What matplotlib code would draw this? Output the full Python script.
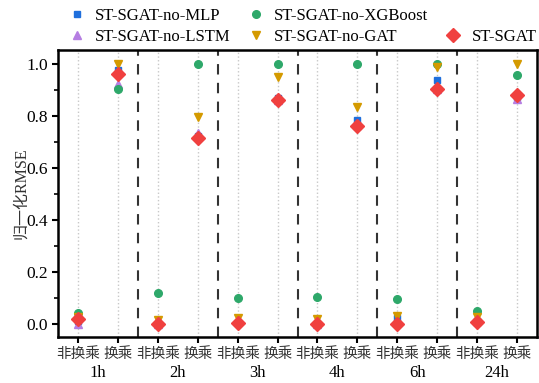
import matplotlib
matplotlib.use("Agg")
from matplotlib import pyplot as plt
from matplotlib.lines import Line2D
import numpy as np

plt.rcParams['font.family'] = ['Liberation Serif', 'Noto Sans CJK SC']

horizons = ["1h", "2h", "3h", "4h", "6h", "24h"]
sub_labels = ["非换乘", "换乘"]

# normalized RMSE, order: (1h non, 1h tr, 2h non, 2h tr, ...)
no_mlp = [0.010, 0.976, 0.0, 0.723, 0.005, 0.870, 0.0, 0.785, 0.025, 0.938, 0.010, 0.872]
no_lstm = [0.0, 0.921, 0.002, 0.732, 0.015, 0.860, 0.002, 0.765, 0.010, 0.902, 0.012, 0.866]
no_xgb = [0.041, 0.903, 0.121, 1.0, 0.101, 1.0, 0.103, 1.0, 0.096, 1.0, 0.050, 0.958]
no_gat = [0.027, 1.0, 0.015, 0.795, 0.022, 0.949, 0.020, 0.832, 0.032, 0.989, 0.028, 1.0]
sgat = [0.018, 0.959, 0.0, 0.713, 0.004, 0.861, 0.0, 0.762, 0.0, 0.902, 0.007, 0.879]

x = np.arange(len(horizons) * 2)

fig = plt.figure(figsize=(5.39, 3.83), dpi=100)
ax = fig.add_axes([0.108, 0.12, 0.888, 0.749])

for xi in x:
    ax.axvline(xi, color="#c8c8c8", ls=":", lw=1.0, zorder=0)
for k in range(1, len(horizons)):
    ax.axvline(2 * k - 0.5, color="#333333", ls=(0, (5, 4)), lw=1.5, zorder=1)

ax.plot(x, no_mlp, "s", color="#1f6fdc", ms=5, ls="none", label="ST-SGAT-no-MLP", zorder=3)
ax.plot(x, no_lstm, "^", color="#b57ee2", ms=6, ls="none", label="ST-SGAT-no-LSTM", zorder=3)
ax.plot(x, no_xgb, "o", color="#2ea86a", ms=5.5, ls="none", label="ST-SGAT-no-XGBoost", zorder=3)
ax.plot(x, no_gat, "v", color="#d49a00", ms=6, ls="none", label="ST-SGAT-no-GAT", zorder=3)
ax.plot(x, sgat, "D", color="#f0403f", ms=7, ls="none", label="ST-SGAT", zorder=4)

ax.set_xlim(-0.5, 11.5)
ax.set_ylim(-0.05, 1.052)
ax.set_xticks(x)
ax.set_xticklabels(sub_labels * len(horizons), fontsize=10.5, color="#333333")
ax.set_yticks(np.arange(0, 1.01, 0.2))
ax.set_yticks(np.arange(0.1, 1.0, 0.2), minor=True)
ax.set_yticklabels(["0.0", "0.2", "0.4", "0.6", "0.8", "1.0"], fontsize=12.5)
ax.tick_params(axis="both", which="major", length=4, width=1.5, direction="out")
ax.tick_params(axis="y", which="minor", length=3, width=1.2, direction="out")
ax.tick_params(axis="x", pad=3)
for s in ax.spines.values():
    s.set_linewidth(1.8)

for i, h in enumerate(horizons):
    ax.text(2 * i + 0.5, -0.125, h, transform=ax.get_xaxis_transform(),
            ha="center", va="center", fontsize=12)

ax.set_ylabel("归一化RMSE", fontsize=11.5, color="#333333", labelpad=-2)

handles, labels = ax.get_legend_handles_labels()
blank = Line2D([], [], ls="none", marker="")
handles = handles[:4] + [blank] + handles[4:]
labels = labels[:4] + [""] + labels[4:]
ax.legend(handles, labels, ncol=3, frameon=False, fontsize=12,
          loc="lower right", bbox_to_anchor=(1.0137, 0.995),
          handletextpad=0.35, columnspacing=0.75, labelspacing=0.3,
          borderaxespad=0.0, handlelength=1.5)

plt.savefig("out.png", dpi=100)
